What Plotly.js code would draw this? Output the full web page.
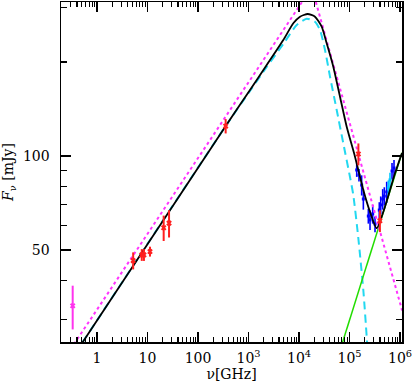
<!DOCTYPE html>
<html>
<head>
<meta charset="utf-8">
<script src="https://cdn.plot.ly/plotly-3.0.1.min.js"></script>
<style>html,body{margin:0;padding:0;background:#fff;}#chart{width:415px;height:386px;}</style>
</head>
<body>
<div id="chart"></div>
<script>
// ---- data ----
var redX = [5.2, 7.7, 8.5, 11.2, 20.9, 26.7, 353, 1.5e5, 4.0e5];
var redY = [46.2, 48.2, 48.2, 49.4, 58.9, 60.9, 124.7, 101.5, 62];
var redErr = [2.9, 2.1, 2.1, 1.8, 5.5, 6.1, 6.6, 8.2, 5];

var magX = [0.33];
var magY = [33.1];
var magErr = [5.3];

var blueX = [1.39e5, 1.54e5, 1.74e5, 1.88e5, 2.36e5, 2.55e5, 2.88e5, 3.2e5, 3.89e5, 4.15e5, 4.54e5, 4.89e5, 5.45e5, 6.95e5, 7.61e5];
var blueY = [90.2, 86.9, 80.7, 72.8, 64.2, 62.4, 65.2, 60.5, 67.1, 69.7, 72.8, 74.4, 76.7, 89.5, 91.5];
var blueErr = [4.5, 4.0, 6.0, 5.5, 3.5, 4.5, 4.5, 3.5, 4.0, 4.5, 5.5, 5.0, 6.0, 5.5, 5.5];

var cyanPtX = [5.86e5, 6.34e5];
var cyanPtY = [79.0, 83.8];
var cyanPtErr = [4.5, 4.5];

// total model (black)
var totX = [0.1937, 353.7, 1071, 2293, 4887, 7709, 10466, 14870, 20740, 28150, 35360, 47780, 64850, 88030, 128500, 187700, 254700, 345600, 504700, 796200, 1095000];
var totY = [19.87, 124.8, 162.8, 195.7, 235.4, 266.3, 279.6, 285.2, 279.6, 259.7, 229.7, 193.3, 154.9, 124.1, 99.5, 77.8, 66.2, 58.7, 68.8, 88.0, 102.2];

// component (cyan dashed)
var compX = [0.1937, 353.7, 1071, 2293, 4887, 9007, 14210, 20740, 26050, 32730, 41120, 55790, 75400, 102300, 118900, 149400, 187700, 219100, 232500];
var compY = [19.87, 124.8, 161.6, 192.9, 228.6, 263.0, 275.5, 269.4, 253.4, 218.7, 179.6, 140.4, 109.8, 85.6, 75.0, 54.6, 37.2, 26.3, 22.2];

// broken power law asymptotes (magenta dotted)
var asymX = [0.19, 1.79e4, 1.1e6];
var asymY = [21.5, 347, 32.0];

// rising power law (green)
var plX = [6.54e4, 1.095e6];
var plY = [23.9, 102.5];

// ticks
var xTickVals = [1, 10, 100, 1e3, 1e4, 1e5, 1e6];
var xTickText = ['1', '10', '100', '10<sup>3</sup>', '10<sup>4</sup>', '10<sup>5</sup>', '10<sup>6</sup>'];
var yTickVals = [50, 100];
var yTickText = ['50', '100'];
var yMinorVals = [30, 40, 60, 70, 80, 90, 200, 300];

var xMinorVals = [];
[0.1, 1, 10, 100, 1e3, 1e4, 1e5].forEach(function (d) {
  for (var k = 2; k <= 9; k++) xMinorVals.push(k * d);
});

function pts(x, y, err, color, sym, size, thick) {
  return {
    x: x, y: y, type: 'scatter', mode: 'markers',
    marker: {color: color, symbol: sym, size: size},
    error_y: {type: 'data', array: err, visible: true, color: color, thickness: thick, width: 0},
    hoverinfo: 'skip', showlegend: false
  };
}

var traces = [
  pts(blueX, blueY, blueErr, '#0000ff', 'square', 3, 1.6),
  pts(cyanPtX, cyanPtY, cyanPtErr, '#00c8ff', 'square', 3, 1.6),
  {x: compX, y: compY, type: 'scatter', mode: 'lines', line: {color: '#22d8f0', width: 2, dash: '8px,5px', shape: 'spline', smoothing: 0.6}, showlegend: false},
  {x: plX, y: plY, type: 'scatter', mode: 'lines', line: {color: '#22dd00', width: 1.5}, showlegend: false},
  {x: asymX, y: asymY, type: 'scatter', mode: 'lines', line: {color: '#ff33ff', width: 2, dash: 'dot'}, showlegend: false},
  {x: totX, y: totY, type: 'scatter', mode: 'lines', line: {color: '#000000', width: 1.8, shape: 'spline', smoothing: 0.6}, showlegend: false},
  pts(redX, redY, redErr, '#ff2020', 'x', 5, 2),
  pts(magX, magY, magErr, '#ff33ee', 'x', 5, 2)
];

var axFont = {family: 'DejaVu Serif, serif', size: 14, color: '#000'};

var layout = {
  width: 415, height: 386,
  margin: {l: 61, r: 13, t: 2, b: 44, pad: 0},
  paper_bgcolor: '#fff', plot_bgcolor: '#fff',
  showlegend: false,
  xaxis: {
    type: 'log', range: [-0.7129, 6.0396], autorange: false,
    showgrid: false, zeroline: false,
    showline: true, linecolor: '#000', linewidth: 1.5, mirror: 'ticks',
    ticks: 'inside', ticklen: 10, tickwidth: 1.2, tickcolor: '#000',
    tickmode: 'array', tickvals: xTickVals, ticktext: xTickText,
    minor: {tickmode: 'array', tickvals: xMinorVals, ticks: 'inside', ticklen: 5, tickwidth: 1.2, tickcolor: '#000', showgrid: false},
    tickfont: axFont, ticklabelstandoff: 3,
    title: {text: 'ν[GHz]', font: axFont, standoff: 4}
  },
  yaxis: {
    type: 'log', range: [1.4038, 2.4936], autorange: false,
    showgrid: false, zeroline: false,
    showline: true, linecolor: '#000', linewidth: 1.5, mirror: 'ticks',
    ticks: 'inside', ticklen: 10, tickwidth: 1.2, tickcolor: '#000',
    tickmode: 'array', tickvals: yTickVals, ticktext: yTickText,
    minor: {tickmode: 'array', tickvals: yMinorVals, ticks: 'inside', ticklen: 6, tickwidth: 1.2, tickcolor: '#000', showgrid: false},
    tickfont: axFont, ticklabelstandoff: 7,
    title: {text: '<i>F</i><sub>ν</sub> [mJy]', font: axFont, standoff: 6}
  }
};

Plotly.newPlot('chart', traces, layout, {staticPlot: true, displayModeBar: false});
</script>
</body>
</html>
